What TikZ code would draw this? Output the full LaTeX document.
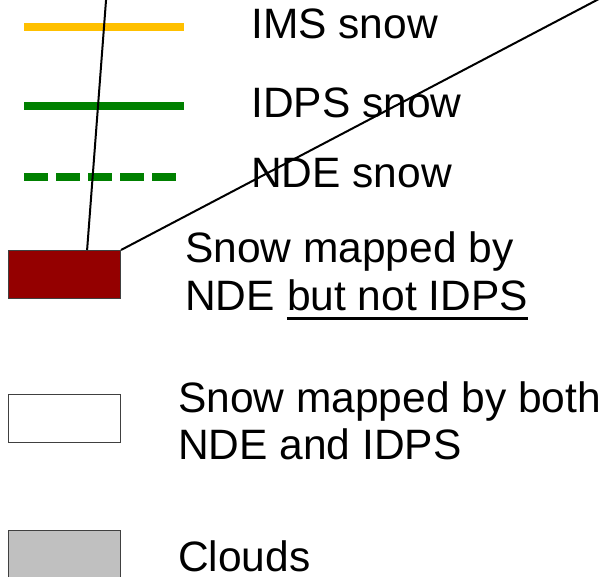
\documentclass[tikz,border=0pt]{standalone}
\usepackage{fontspec}
\setmainfont{Liberation Sans}
\usepackage{xcolor}
\usetikzlibrary{positioning}
\usetikzlibrary{calc}

\definecolor{imsyellow}{RGB}{255,192,0}
\definecolor{snowgreen}{RGB}{0,128,0}
\definecolor{ndered}{RGB}{148,0,0}
\definecolor{cloudgray}{RGB}{192,192,192}
\definecolor{boxedge}{RGB}{64,64,64}

\begin{document}
\begin{tikzpicture}[x=1pt, y=-1pt,
    legendtext/.style={anchor=base west, inner sep=0pt, font=\fontsize{42.5}{48}\selectfont},
    swatch/.style={draw=boxedge, line width=1pt, anchor=north west, inner sep=0pt,
                   minimum width=112pt, minimum height=48pt},
    legendline/.style={line width=8pt, line cap=butt},
    pointer/.style={black, line width=2pt}]
  \useasboundingbox (0,0) rectangle (607,577);

  % line samples
  \coordinate (imsA) at (24,27);  \coordinate (imsB) at (184,27);
  \coordinate (idpsA) at (24,106); \coordinate (idpsB) at (184,106);
  \coordinate (ndeA) at (24,177);  \coordinate (ndeB) at (176,177);
  \draw[legendline, imsyellow] (imsA) -- (imsB);
  \draw[legendline, snowgreen] (idpsA) -- (idpsB);
  \draw[legendline, snowgreen, dash pattern=on 24pt off 8pt] (ndeA) -- (ndeB);

  \node[legendtext] (imslabel) at (251,39) {IMS snow};
  \node[legendtext] (idpslabel) at (251,118) {IDPS snow};
  \node[legendtext] (ndelabel) at (251,188) {NDE snow};

  % filled swatches
  \node[swatch, fill=ndered] (redbox) at (8,250) {};
  \node[swatch, fill=white] (whitebox) at (8,394) {};
  \node[swatch, fill=cloudgray] (graybox) at (8,530) {};

  \node[legendtext] (onlyA) at (185,262) {Snow mapped by};
  \node[legendtext] (onlyB) at (185,310) {NDE};
  \node[legendtext, xshift=11.8pt] (onlyC) at (onlyB.base east) {but not IDPS};
  \draw[line width=3pt] ($(onlyC.base west)+(0,8)$) -- ($(onlyC.base east)+(0,8)$);

  \node[legendtext] (bothA) at (178,412) {Snow mapped by both};
  \node[legendtext] (bothB) at (178,459) {NDE and IDPS};

  \node[legendtext] (cloudlabel) at (178,571) {Clouds};

  % pointers from the red swatch
  \coordinate (tipA) at (106.8,-10);
  \coordinate (tipB) at (616,-10);
  \draw[pointer] (tipA) -- ($(redbox.north west)!0.7!(redbox.north east)$);
  \draw[pointer] (tipB) -- (redbox.north east);
\end{tikzpicture}
\end{document}
